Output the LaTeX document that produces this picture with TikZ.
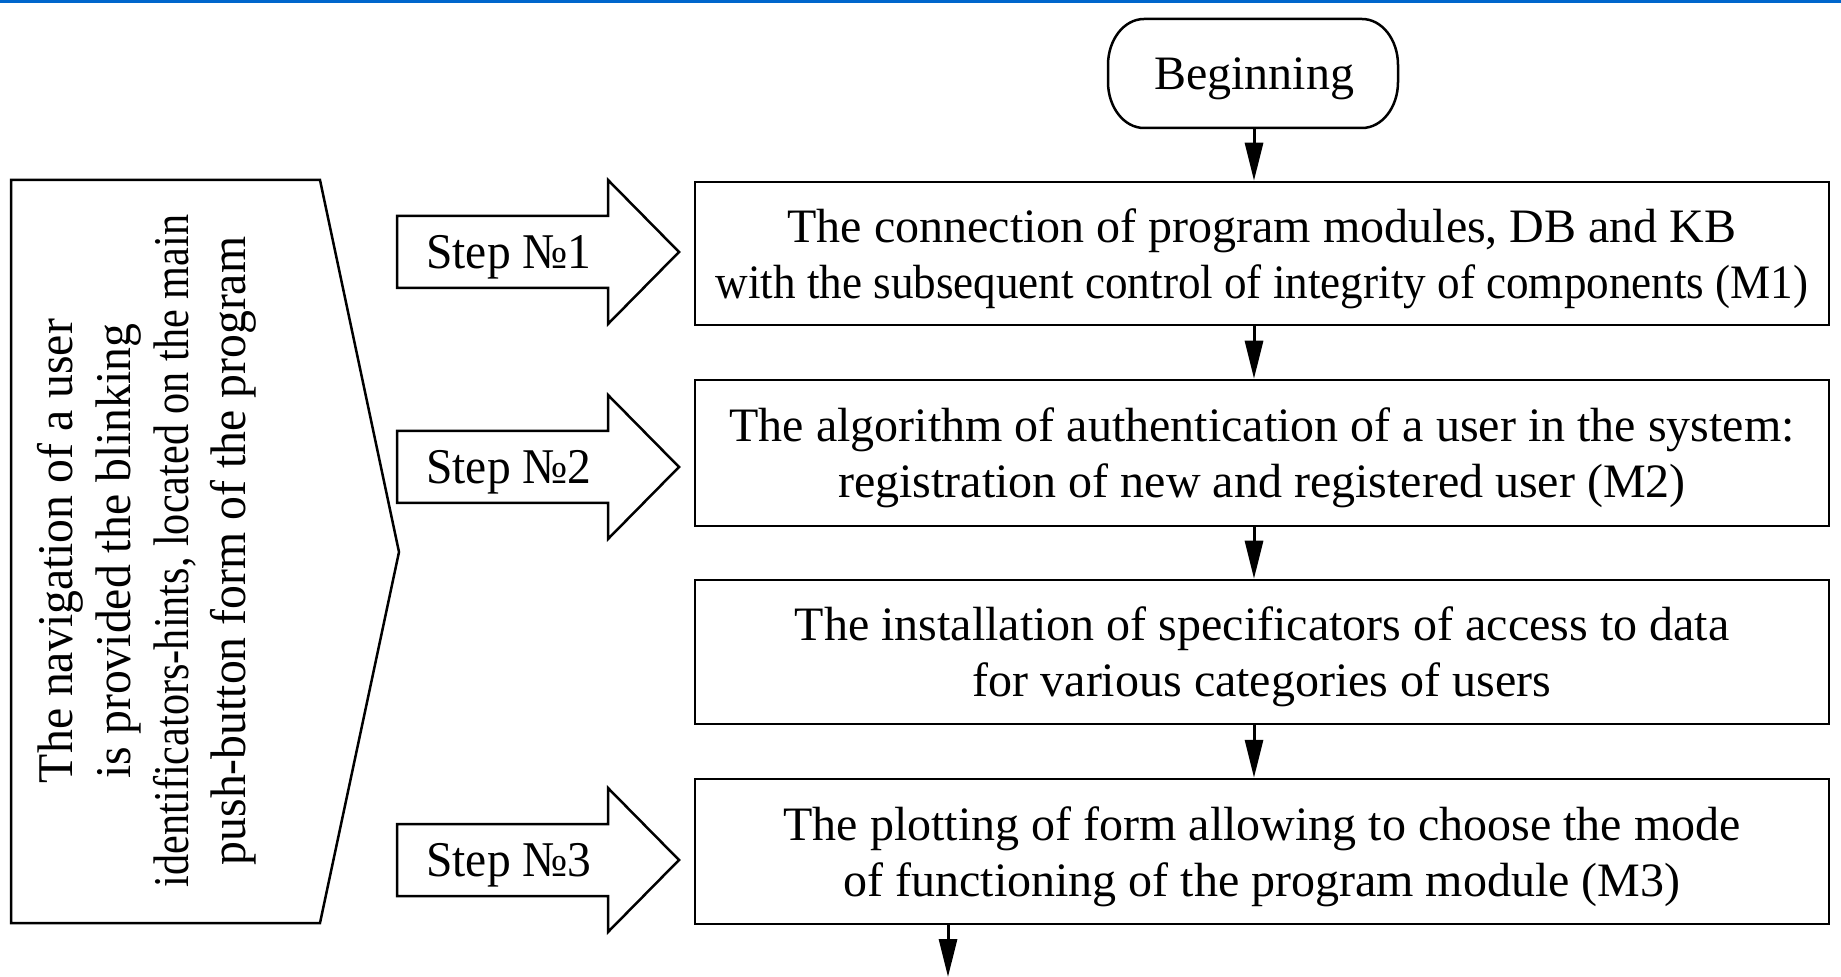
\documentclass[tikz,border=0pt]{standalone}
\usepackage{fontspec}
\setmainfont{Liberation Serif}
\newfontfamily\condA[FakeStretch=0.94]{Liberation Serif}
\newfontfamily\condB[FakeStretch=0.845]{Liberation Serif}
\newfontfamily\condN[FakeStretch=0.955]{Liberation Serif}
\newfontfamily\condS[FakeStretch=0.95]{Liberation Serif}
\usetikzlibrary{arrows.meta,calc}
\definecolor{topblue}{RGB}{0,102,204}
\begin{document}
\begin{tikzpicture}[x=0.5pt,y=-0.5pt,
  outline/.style={draw=black,line width=1.25pt,line join=miter},
  flowbox/.style={outline,minimum width=567pt,minimum height=72pt,inner sep=0pt,align=center,
    text depth=0pt,font=\fontsize{24pt}{28pt}\selectfont},
  steptext/.style={inner sep=0pt,text depth=0pt,font=\condS\fontsize{25pt}{28pt}\selectfont},
  navtext/.style={inner sep=0pt,align=center,rotate=90,font=\condN\fontsize{25pt}{28.8pt}\selectfont},
  flowarrow/.style={line width=1.5pt,-{Triangle[length=19pt,width=9pt]}}
]
\useasboundingbox (0,0) rectangle (1841,977);
\fill[topblue] (0,0) rectangle (1841,3);

% terminal
\node[inner sep=0pt,minimum width=144.5pt,minimum height=54.5pt,text depth=0pt,
  font=\fontsize{24pt}{28pt}\selectfont] (begin) at (1254,73.5) {Beginning};
\draw[outline] (1144,19) -- (1362,19)
  .. controls (1381.9,19) and (1398,39.6) .. (1398,65) -- (1398,82)
  .. controls (1398,107.4) and (1381.9,128) .. (1362,128) -- (1144,128)
  .. controls (1124.1,128) and (1108,107.4) .. (1108,82) -- (1108,65)
  .. controls (1108,39.6) and (1124.1,19) .. (1144,19) -- cycle;

% process boxes
\node[flowbox,minimum height=71.5pt] (b1) at (1262,253.5)
  {The connection of program modules, DB and KB\\{\condA with the subsequent control of integrity of components (M1)}};
\node[flowbox,minimum height=73pt] (b2) at (1262,453)
  {The algorithm of authentication of a user in the system:\\registration of new and registered user (M2)};
\node[flowbox] (b3) at (1262,652)
  {The installation of specificators of access to data\\for various categories of users};
\node[flowbox,minimum height=72.5pt] (b4) at (1262,851.5)
  {The plotting of form allowing to choose the mode\\of functioning of the program module (M3)};

\coordinate (end) at (948,977);
\draw[flowarrow] (begin.south) -- (begin.south |- b1.north);
\draw[flowarrow] (b1.south -| begin.south) -- (b2.north -| begin.south);
\draw[flowarrow] (b2.south -| begin.south) -- (b3.north -| begin.south);
\draw[flowarrow] (b3.south -| begin.south) -- (b4.north -| begin.south);
\draw[flowarrow] (b4.south -| end) -- (end);

% left pentagon
\draw[outline] (11,180) -- (320,180) -- (399,552) -- (320,923) -- (11,923) -- cycle;
\node[navtext] (nav) at (147,551)
  {The navigation of a user\\is provided the blinking\\{\condB identificators-hints, located on the main}\\push-button form of the program};

% step arrows
\foreach \yy/\n in {252/1,467/2,860/3}{
  \draw[outline] (397,\yy-36) -- (608,\yy-36) -- (608,\yy-72) -- (679,\yy)
    -- (608,\yy+72) -- (608,\yy+36) -- (397,\yy+36) -- cycle;
  \node[steptext] (s\n) at (509,\yy) {Step №\n};
}
\end{tikzpicture}
\end{document}
